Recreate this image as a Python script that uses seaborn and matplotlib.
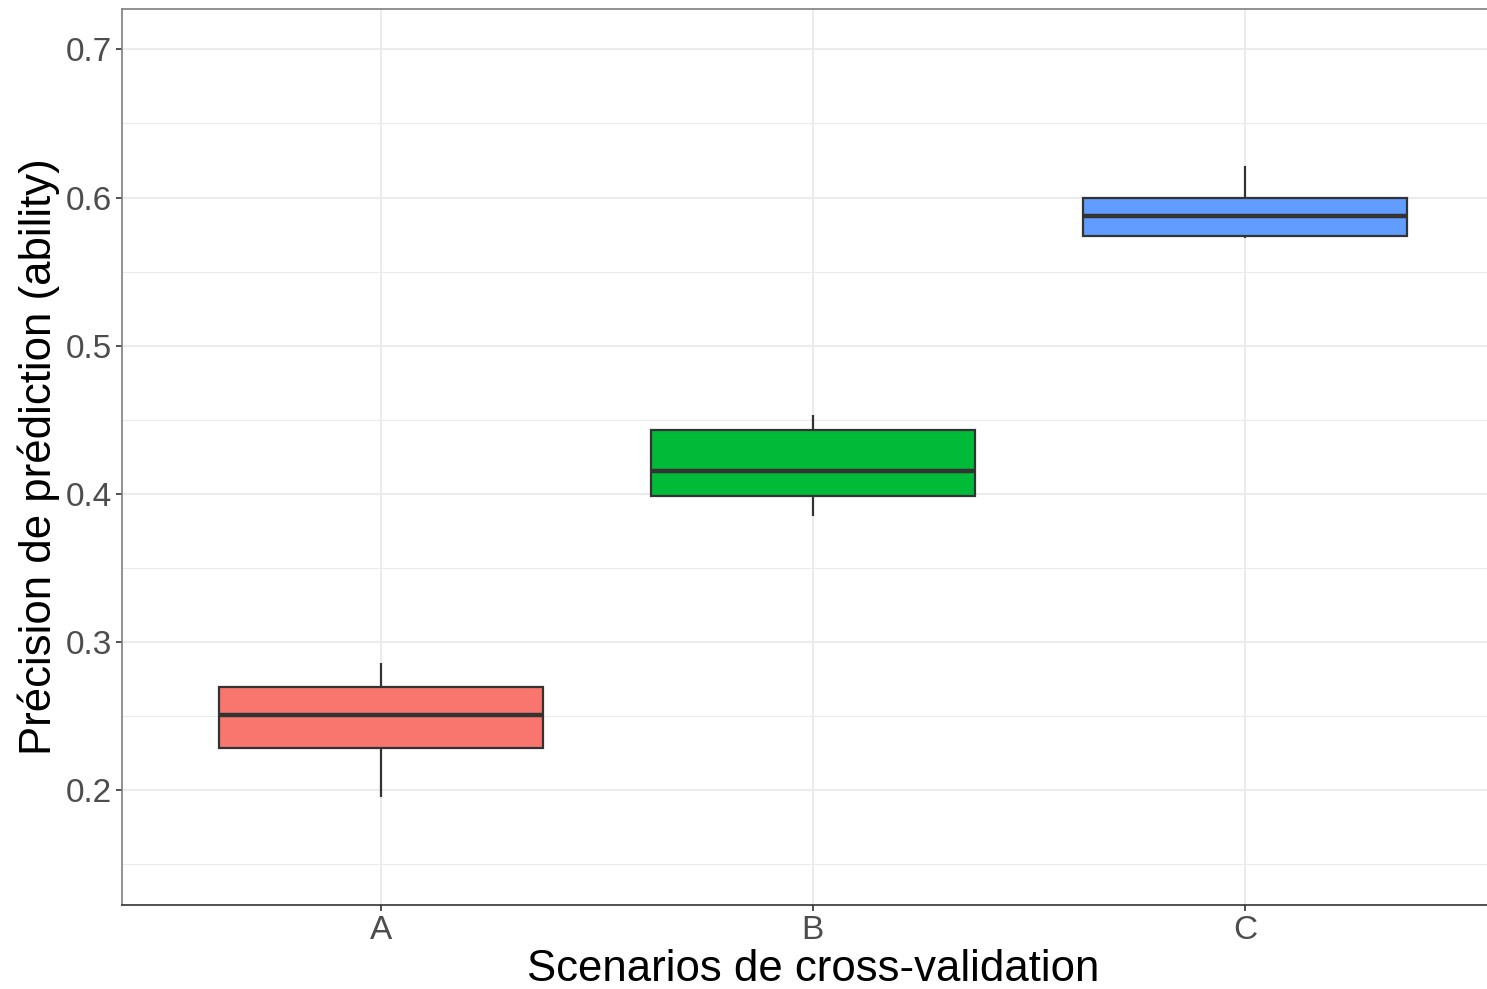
import numpy as np
import pandas as pd
import matplotlib
matplotlib.use("Agg")
import matplotlib.pyplot as plt
import seaborn as sns
from matplotlib.ticker import MultipleLocator

# five-number summaries (min, q1, median, q3, max)
scenarios = ["A", "B", "C"]
vals_a = [0.1957, 0.2283, 0.2506, 0.2695, 0.2861]
vals_b = [0.3851, 0.3984, 0.4153, 0.4429, 0.4530]
vals_c = [0.5725, 0.5742, 0.5873, 0.5999, 0.6212]
colors = ["#F8766D", "#00BA38", "#619CFF"]

df = pd.DataFrame({
    "Scenario": np.repeat(scenarios, 5),
    "Precision": vals_a + vals_b + vals_c,
})

sns.set_style("white")
plt.rcParams["font.family"] = ["Liberation Sans", "DejaVu Sans"]

fig = plt.figure(figsize=(14.87, 9.89), dpi=100)
ax = fig.add_axes([0.0818, 0.0849, 0.9297, 0.906])

sns.boxplot(
    data=df, x="Scenario", y="Precision", hue="Scenario",
    palette=colors, saturation=1, width=0.75, whis=np.inf, showcaps=False,
    linecolor="#333333", linewidth=1.6, legend=False,
    medianprops={"linewidth": 3.2, "color": "#333333"},
    whiskerprops={"linewidth": 1.6, "color": "#333333"},
    ax=ax,
)

# grille façon theme_bw (seaborn coupe la grille x, on la remet)
ax.set_axisbelow(True)
ax.yaxis.set_major_locator(MultipleLocator(0.1))
ax.yaxis.set_minor_locator(MultipleLocator(0.05))
ax.grid(which="major", axis="both", color="#EBEBEB", linewidth=1.4)
ax.grid(which="minor", axis="y", color="#EBEBEB", linewidth=0.8)

ax.set_xlim(-0.6, 2.6)
ax.set_ylim(0.1226, 0.7272)
ax.yaxis.set_major_formatter(matplotlib.ticker.FormatStrFormatter("%.1f"))

ax.set_xlabel("Scenarios de cross-validation", fontsize=31.5, color="black", labelpad=2.5)
ax.set_ylabel("Précision de prédiction (ability)", fontsize=31.5, color="black", labelpad=4)
ax.tick_params(axis="both", which="major", labelsize=24, labelcolor="#4D4D4D",
               length=4, width=1.2, color="#333333", pad=3, left=True, bottom=True)
ax.tick_params(axis="y", which="minor", length=0)

for side in ["left", "top"]:
    ax.spines[side].set_color("#7F7F7F")
    ax.spines[side].set_linewidth(1.2)
ax.spines["bottom"].set_color("#333333")
ax.spines["bottom"].set_linewidth(1.2)
ax.spines["right"].set_visible(False)

fig.savefig("out.png", dpi=100)
